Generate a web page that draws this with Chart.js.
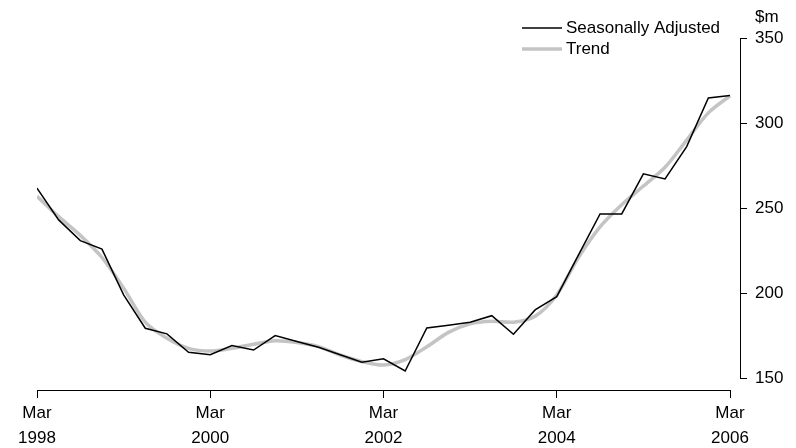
<!DOCTYPE html>
<html><head><meta charset="utf-8">
<script src="https://cdn.jsdelivr.net/npm/chart.js@4"></script>
<style>html,body{margin:0;padding:0;background:#fff}#wrap{width:796px;height:448px}</style>
</head><body><div id="wrap"><canvas id="c" width="796" height="448"></canvas></div>
<script>
// ---- data ----
const quarters = [
  'Mar 1998','Jun 1998','Sep 1998','Dec 1998',
  'Mar 1999','Jun 1999','Sep 1999','Dec 1999',
  'Mar 2000','Jun 2000','Sep 2000','Dec 2000',
  'Mar 2001','Jun 2001','Sep 2001','Dec 2001',
  'Mar 2002','Jun 2002','Sep 2002','Dec 2002',
  'Mar 2003','Jun 2003','Sep 2003','Dec 2003',
  'Mar 2004','Jun 2004','Sep 2004','Dec 2004',
  'Mar 2005','Jun 2005','Sep 2005','Dec 2005',
  'Mar 2006'
];
const seasonallyAdjusted = [
  261.8, 243.1, 230.9, 225.9,
  199.0, 179.4, 176.1, 165.3,
  163.9, 169.2, 166.6, 175.1,
  171.6, 168.2, 163.8, 159.4,
  161.5, 154.3, 179.6, 181.2,
  182.9, 186.8, 175.9, 190.2,
  198.0, 222.4, 246.6, 246.6,
  270.2, 267.2, 286.2, 314.7,
  316.2
];
const trend = [
  257.0, 245.0, 234.0, 221.0,
  203.0, 183.0, 173.5, 167.6,
  166.0, 167.6, 170.0, 172.0,
  171.0, 168.6, 163.7, 159.8,
  157.8, 161.0, 168.5, 177.0,
  182.0, 183.5, 183.0, 186.5,
  199.0, 221.0, 239.0, 252.0,
  263.0, 274.0, 290.0, 306.0,
  316.0
];
const xTickQuarters = ['Mar 1998','Mar 2000','Mar 2002','Mar 2004','Mar 2006'];
const yTicks = [150, 200, 250, 300, 350];
const yUnit = '$m';
const seriesNames = ['Seasonally Adjusted', 'Trend'];

// ---- chart ----
const FONT = {family: '"Liberation Sans", Arial, sans-serif', size: 17, lineHeight: 1.45};
const toPoints = arr => arr.map((v, i) => ({x: i, y: v}));
const lastIdx = quarters.length - 1;

const axisLines = {
  id: 'axisLines',
  afterDraw(chart) {
    const {ctx, chartArea, scales: {x, y}} = chart;
    ctx.save();
    ctx.strokeStyle = '#000';
    ctx.lineWidth = 1;
    ctx.beginPath();
    const by = Math.round(chartArea.bottom) + 0.5;
    ctx.moveTo(x.getPixelForValue(0), by);
    ctx.lineTo(x.getPixelForValue(lastIdx) + 0.5, by);
    const rx = Math.round(chartArea.right) + 0.5;
    ctx.moveTo(rx, y.getPixelForValue(yTicks[0]));
    ctx.lineTo(rx, y.getPixelForValue(yTicks[yTicks.length - 1]));
    ctx.stroke();
    // unit label
    ctx.fillStyle = '#000';
    ctx.font = '17px "Liberation Sans", Arial, sans-serif';
    ctx.textAlign = 'left';
    ctx.textBaseline = 'middle';
    ctx.fillText(yUnit, y.left + 15, y.getPixelForValue(yTicks[yTicks.length - 1]) - 21);
    // legend
    const ds = chart.data.datasets;
    const lx0 = 522, lx1 = 562, tx = 566;
    ds.forEach((d, k) => {
      const ly = 28 + k * 21;
      ctx.beginPath();
      ctx.strokeStyle = d.borderColor;
      ctx.lineWidth = d.borderWidth;
      ctx.moveTo(lx0, ly);
      ctx.lineTo(lx1, ly);
      ctx.stroke();
      ctx.fillText(d.label, tx, ly);
    });
    ctx.restore();
  }
};

new Chart(document.getElementById('c'), {
  type: 'line',
  data: {
    datasets: [
      {label: seriesNames[0], data: toPoints(seasonallyAdjusted), borderColor: '#000', borderWidth: 1.5,
       pointRadius: 0, tension: 0, fill: false},
      {label: seriesNames[1], data: toPoints(trend), borderColor: '#c4c4c4', borderWidth: 3.5,
       pointRadius: 0, tension: 0.3, fill: false}
    ]
  },
  options: {
    responsive: false,
    devicePixelRatio: 1,
    animation: false,
    layout: {padding: {left: 37, top: 38, right: 0, bottom: 0}},
    plugins: {legend: {display: false}, tooltip: {enabled: false}, title: {display: false}},
    scales: {
      x: {
        type: 'linear',
        min: 0,
        max: lastIdx * 703 / 693,
        afterFit: s => { s.height = 58; },
        afterBuildTicks: s => { s.ticks = xTickQuarters.map(q => ({value: quarters.indexOf(q)})); },
        border: {display: false},
        grid: {drawOnChartArea: false, drawTicks: true, tickLength: 8, color: '#000', lineWidth: 1},
        ticks: {
          autoSkip: false, maxRotation: 0, minRotation: 0, padding: 3, color: '#000', font: FONT,
          callback: v => quarters[v].split(' ')
        }
      },
      y: {
        position: 'right',
        min: 150 - 11.7 / 1.7016,
        max: 350,
        afterFit: s => { s.width = 56; },
        afterBuildTicks: s => { s.ticks = yTicks.map(v => ({value: v})); },
        border: {display: false},
        grid: {drawOnChartArea: false, drawTicks: true, tickLength: 7, color: '#000', lineWidth: 1},
        ticks: {padding: 8, color: '#000', font: {family: FONT.family, size: 17}}
      }
    }
  },
  plugins: [axisLines]
});
</script>
</body></html>
